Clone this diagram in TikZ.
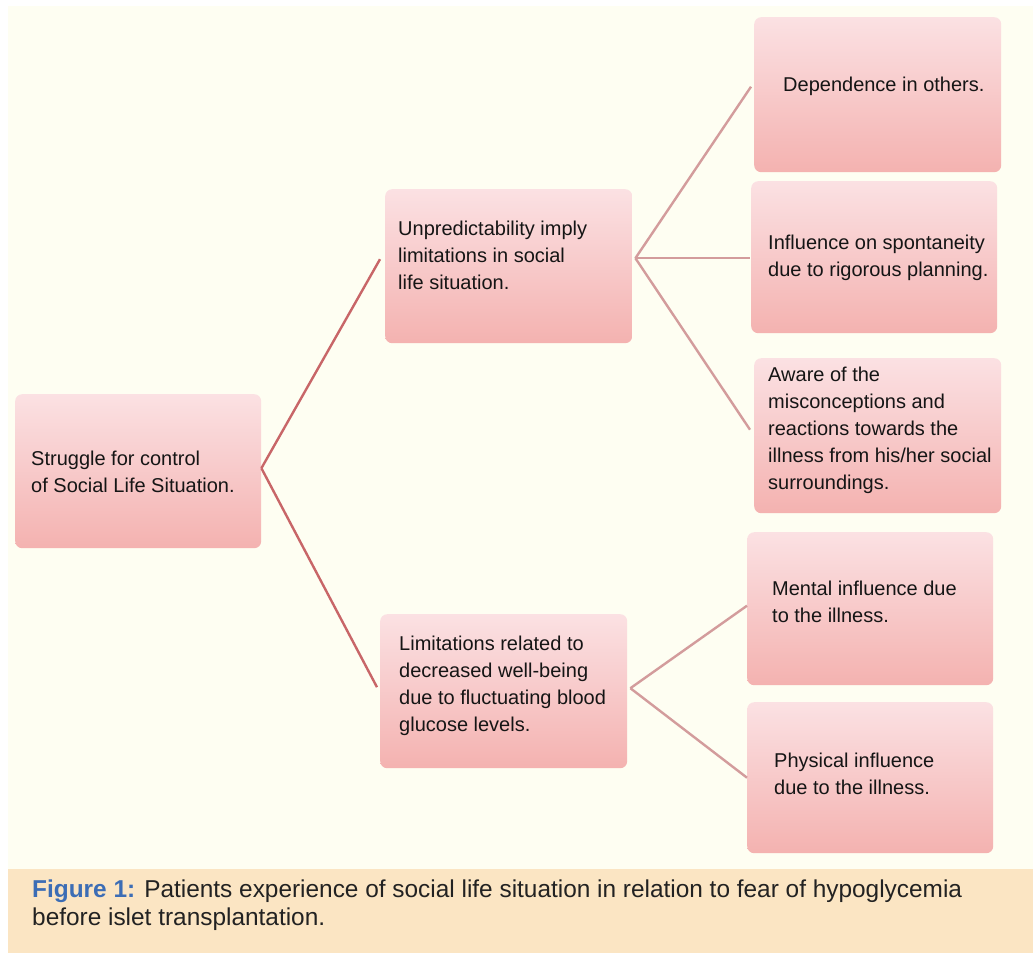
\documentclass[tikz,border=0pt]{standalone}
\usepackage{fontspec}
\setmainfont{Liberation Sans}
\definecolor{cream}{HTML}{FEFEF2}
\definecolor{capband}{HTML}{FBE5C3}
\definecolor{boxtop}{HTML}{FBE1E3}
\definecolor{boxmid}{HTML}{F8CBCB}
\definecolor{boxbot}{HTML}{F4B2B0}
\definecolor{lineA}{HTML}{C86668}
\definecolor{lineB}{HTML}{D39C9C}
\definecolor{figblue}{HTML}{3C6DB5}
\definecolor{captext}{HTML}{222222}
\definecolor{boxtext}{HTML}{151515}
\begin{document}
\begin{tikzpicture}[x=1pt,y=-1pt,
  pbox/.style={draw=none, rounded corners=7pt, top color=boxtop, middle color=boxmid, bottom color=boxbot, anchor=north west, inner sep=0pt},
  btext/.style={anchor=north west, inner sep=0pt, align=left, text=boxtext, font=\fontsize{20}{27}\selectfont},
  linkA/.style={draw=lineA, line width=2.4pt},
  linkB/.style={draw=lineB, line width=2.4pt}]
\useasboundingbox (0,0) rectangle (1033,954);
\fill[white] (0,0) rectangle (1033,954);
\fill[cream] (8,6) rectangle (1033,869);
\fill[capband] (8,869) rectangle (1033,953);

% boxes
\node[pbox, minimum width=246pt, minimum height=154pt] (A) at (15,394) {};
\node[pbox, minimum width=247pt, minimum height=154pt] (B) at (385,189) {};
\node[pbox, minimum width=247pt, minimum height=155pt] (C) at (754,17) {};
\node[pbox, minimum width=246pt, minimum height=152pt] (D) at (751,181) {};
\node[pbox, minimum width=247pt, minimum height=155pt] (E) at (754,358) {};
\node[pbox, minimum width=247pt, minimum height=154pt] (F) at (380,614) {};
\node[pbox, minimum width=246pt, minimum height=153pt] (G) at (747,532) {};
\node[pbox, minimum width=246pt, minimum height=151pt] (H) at (747,702) {};

% texts
\node[btext] (tA) at (31,446) {\strut Struggle for control\\\strut of Social Life Situation.};
\node[btext] (tB) at (398,216) {\strut Unpredictability imply\\\strut limitations in social\\\strut life situation.};
\node[btext] (tC) at (783,72) {\strut Dependence in others.};
\node[btext] (tD) at (768,230) {\strut Influence on spontaneity\\\strut due to rigorous planning.};
\node[btext] (tE) at (768,362) {\strut Aware of the\\\strut misconceptions and\\\strut reactions towards the\\\strut illness from his/her social\\\strut surroundings.};
\node[btext] (tF) at (399,631) {\strut Limitations related to\\\strut decreased well-being\\\strut due to fluctuating blood\\\strut glucose levels.};
\node[btext] (tG) at (772,576) {\strut Mental influence due\\\strut to the illness.};
\node[btext] (tH) at (774,748) {\strut Physical influence\\\strut due to the illness.};

% connectors
\draw[linkA] ([yshift=3pt]A.east) -- ([xshift=-5pt,yshift=7pt]B.west);
\draw[linkA] ([yshift=3pt]A.east) -- ([xshift=-3pt,yshift=4pt]F.west);
\draw[linkB] ([xshift=3pt,yshift=8pt]B.east) -- ([xshift=-3pt,yshift=8pt]C.west);
\draw[linkB] ([xshift=3pt,yshift=8pt]B.east) -- ([xshift=-1pt,yshift=-1pt]D.west);
\draw[linkB] ([xshift=3pt,yshift=8pt]B.east) -- ([xshift=-4pt,yshift=6pt]E.west);
\draw[linkB] ([xshift=3pt,yshift=3pt]F.east) -- ([yshift=3pt]G.west);
\draw[linkB] ([xshift=3pt,yshift=3pt]F.east) -- ([yshift=0pt]H.west);

% caption
\node[anchor=north west, inner sep=0pt, align=left, text=captext, font=\fontsize{24.4}{28}\selectfont] (cap) at (32,877.4)
  {\strut\textcolor{figblue}{\textbf{Figure 1:}} Patients experience of social life situation in relation to fear of hypoglycemia\\\strut before islet transplantation.};
\end{tikzpicture}
\end{document}
